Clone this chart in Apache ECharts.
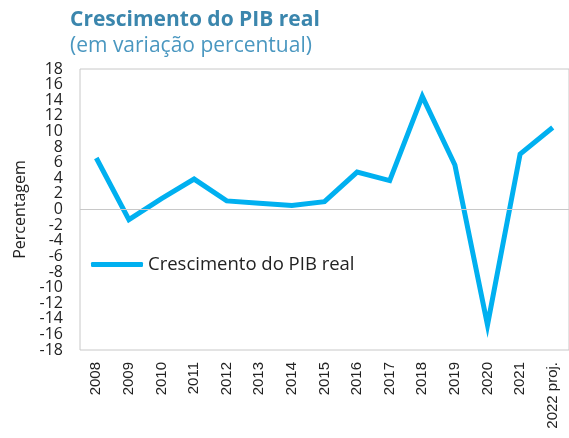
<!DOCTYPE html>
<html>
<head>
<meta charset="utf-8">
<script src="https://cdn.jsdelivr.net/npm/echarts@6/dist/echarts.min.js"></script>
<style>
  html, body { margin: 0; padding: 0; background: #fff; }
  #main { width: 569px; height: 438px; }
</style>
</head>
<body>
<div id="main"></div>
<script>
const years = ['2008', '2009', '2010', '2011', '2012', '2013', '2014', '2015',
  '2016', '2017', '2018', '2019', '2020', '2021', '2022 proj.'];
const pibReal = [6.6, -1.3, 1.4, 3.9, 1.1, 0.8, 0.5, 1.0, 4.8, 3.7, 14.5, 5.7, -14.8, 7.1, 10.5];
const yTicks = { min: -18, max: 18, step: 2 };

const yLabelStyle = { margin: 17, fontFamily: 'Open Sans', fontSize: 16, color: '#222' };

const chart = echarts.init(document.getElementById('main'));
const option = {
  backgroundColor: '#fff',
  animation: false,
  title: [{
    text: 'Crescimento do PIB real',
    left: 65, top: 5,
    textStyle: { fontFamily: 'Open Sans', fontSize: 21, fontWeight: 'bold', color: '#3b86ad' }
  }, {
    text: '(em variação percentual)',
    left: 65, top: 31,
    textStyle: { fontFamily: 'Open Sans', fontSize: 21, fontWeight: 'normal', color: '#4a97c0' }
  }],
  legend: {
    left: 86, top: 250,
    icon: 'roundRect',
    itemWidth: 52, itemHeight: 5, itemGap: 4,
    textStyle: { fontFamily: 'Open Sans', fontSize: 18.5, color: '#222' },
    data: ['Crescimento do PIB real']
  },
  grid: {
    left: 80, right: -2, top: 69, bottom: 88,
    show: true, borderColor: '#c8c8c8', borderWidth: 1
  },
  xAxis: {
    type: 'category',
    data: years,
    boundaryGap: true,
    axisLine: { show: false },
    axisTick: { show: false },
    axisLabel: {
      rotate: 90, margin: 12,
      fontFamily: 'Liberation Sans', fontSize: 15, color: '#222'
    }
  },
  yAxis: [{
    type: 'value',
    min: yTicks.min, max: yTicks.max, interval: yTicks.step,
    name: 'Percentagem',
    nameLocation: 'middle', nameGap: 44, nameRotate: 90,
    nameTextStyle: { fontFamily: 'Open Sans', fontSize: 16, color: '#222' },
    splitLine: { show: false },
    axisLine: { show: false },
    axisTick: { show: false },
    axisLabel: Object.assign({ showMinLabel: false, showMaxLabel: false }, yLabelStyle)
  }, {
    // the end labels (-18 and 18), which the first axis drops as overlapping
    type: 'value', position: 'left', offset: 0,
    min: yTicks.min, max: yTicks.max, interval: yTicks.max - yTicks.min,
    splitLine: { show: false },
    axisLine: { show: false },
    axisTick: { show: false },
    axisLabel: Object.assign({ showMinLabel: true, showMaxLabel: true }, yLabelStyle)
  }],
  series: [{
    name: 'Crescimento do PIB real',
    type: 'line',
    yAxisIndex: 0,
    data: pibReal,
    symbol: 'none',
    lineStyle: { color: '#00b0f0', width: 5, join: 'miter' },
    itemStyle: { color: '#00b0f0' },
    markLine: {
      silent: true, symbol: 'none', label: { show: false },
      lineStyle: { color: '#c8c8c8', width: 1, type: 'solid' },
      data: [{ yAxis: 0 }]
    }
  }]
};
chart.setOption(option);
</script>
</body>
</html>
